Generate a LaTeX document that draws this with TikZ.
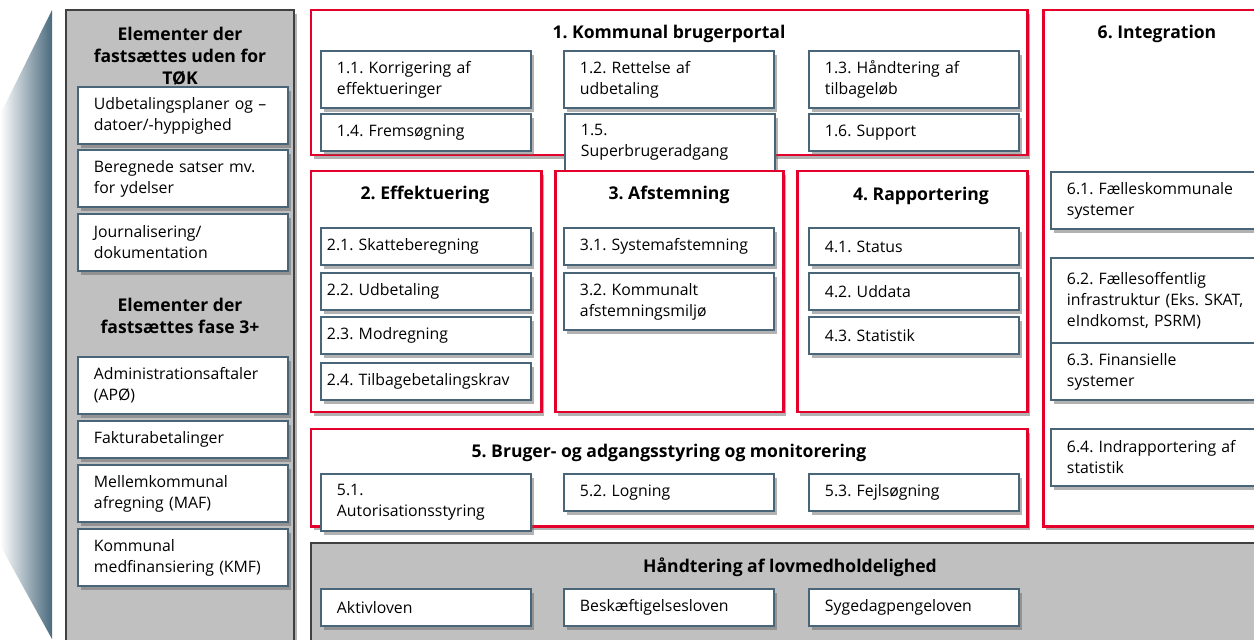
\documentclass[tikz,border=0pt]{standalone}
\usepackage{fontspec}
\setmainfont{Open Sans}
\usetikzlibrary{shadows}
\frenchspacing

\definecolor{framered}{RGB}{228,0,43}
\definecolor{itemblue}{RGB}{72,102,120}
\definecolor{panelgrey}{RGB}{192,192,192}
\definecolor{slate}{RGB}{74,106,125}

\begin{document}
\begin{tikzpicture}[x=0.02cm, y=-0.02cm,
	softshadow/.style = {drop shadow = {shadow xshift = 1.6pt, shadow yshift = -2.4pt, opacity = 0.5, fill = black!60}},
	sect/.style = {draw = framered, line width = 1.7pt, fill = white, softshadow},
	panel/.style = {draw = black!75, line width = 0.6pt, fill = panelgrey, softshadow},
	head/.style = {font = \fontsize{10}{12.5}\selectfont\bfseries, align = center},
	item/.style = {anchor = north west, draw = itemblue, line width = 1.1pt, fill = white, softshadow,
		minimum width = 4.2cm, minimum height = 1.14cm, text width = 3.56cm, inner xsep = 0.32cm,
		align = left, font = \fontsize{9}{11.9}\selectfont},
	short/.style = {minimum height = 0.74cm},
	tall/.style = {minimum height = 1.7cm},
	tight/.style = {text width = 3.96cm, inner xsep = 0.12cm}]
	\clip (0, 0) rectangle (1254, 639);
	\fill[white] (0, 0) rectangle (1254, 639);
	
	% side wedge
	\shade[left color = white, right color = slate] (0, 115) -- (52, 10) -- (52, 639) -- (0, 545) -- cycle;
	
	% left panel
	\draw[panel] (66, 10) rectangle (294, 660);
	\node[head] (lt1) at (180, 56) {Elementer der\\fastsættes uden for\\TØK};
	\node[item] (l1) at (77, 86) {Udbetalingsplaner og –\\datoer/-hyppighed};
	\node[item] (l2) at (77, 149) {Beregnede satser mv.\\for ydelser};
	\node[item] (l3) at (77, 213) {Journalisering/\\dokumentation};
	\node[head] (lt2) at (180, 316) {Elementer der\\fastsættes fase 3+};
	\node[item] (l4) at (77, 356) {Administrationsaftaler\\(APØ)};
	\node[item, short] (l5) at (77, 420) {Fakturabetalinger};
	\node[item] (l6) at (77, 464) {Mellemkommunal\\afregning (MAF)};
	\node[item] (l7) at (77, 528) {Kommunal\\medfinansiering (KMF)};
	
	% 1
	\draw[sect] (311, 10) rectangle (1027, 155);
	\node[head] (t1) at (669, 34) {1. Kommunal brugerportal};
	\node[item] (b11) at (320, 50) {1.1. Korrigering af\\effektueringer};
	\node[item] (b12) at (563, 50) {1.2. Rettelse af\\udbetaling};
	\node[item] (b13) at (808, 50) {1.3. Håndtering af\\tilbageløb};
	\node[item, short] (b14) at (320, 113) {1.4. Fremsøgning};
	\node[item] (b15) at (564, 113) {1.5.\\Superbrugeradgang};
	\node[item, short] (b16) at (808, 113) {1.6. Support};
	
	% 2
	\draw[sect] (311, 171) rectangle (541, 412);
	\node[head] (t2) at (425, 195) {2. Effektuering};
	\node[item, short, tight] (b21) at (320, 227) {2.1. Skatteberegning};
	\node[item, short, tight] (b22) at (320, 272) {2.2. Udbetaling};
	\node[item, short, tight] (b23) at (320, 316) {2.3. Modregning};
	\node[item, short, tight] (b24) at (320, 362) {2.4. Tilbagebetalingskrav};
	
	% 3
	\draw[sect] (555, 171) rectangle (783, 412);
	\node[head] (t3) at (669, 195) {3. Afstemning};
	\node[item, short] (b31) at (563, 227) {3.1. Systemafstemning};
	\node[item] (b32) at (563, 272) {3.2. Kommunalt\\afstemningsmiljø};
	
	% 4
	\draw[sect] (797, 171) rectangle (1027, 412);
	\node[head] (t4) at (921, 196) {4. Rapportering};
	\node[item, short] (b41) at (808, 227) {4.1. Status};
	\node[item, short] (b42) at (808, 272) {4.2. Uddata};
	\node[item, short] (b43) at (808, 316) {4.3. Statistik};
	
	% 5
	\draw[sect] (311, 429) rectangle (1027, 526);
	\node[head] (t5) at (669, 453) {5. Bruger- og adgangsstyring og monitorering};
	\node[item] (b51) at (320, 473) {5.1.\\Autorisationsstyring};
	\node[item, short] (b52) at (563, 473) {5.2. Logning};
	\node[item, short] (b53) at (808, 473) {5.3. Fejlsøgning};
	
	% 6
	\draw[sect] (1043, 10) rectangle (1270, 526);
	\node[head] (t6) at (1157, 34) {6. Integration};
	\node[item] (b61) at (1050, 171) {6.1. Fælleskommunale\\systemer};
	\node[item, tall] (b62) at (1050, 257) {6.2. Fællesoffentlig\\infrastruktur (Eks. SKAT,\\eIndkomst, PSRM)};
	\node[item] (b63) at (1050, 342) {6.3. Finansielle\\systemer};
	\node[item] (b64) at (1050, 428) {6.4. Indrapportering af\\statistik};
	
	% lovgivning
	\draw[panel] (311, 543) rectangle (1270, 660);
	\node[head] (t7) at (790, 567) {Håndtering af lovmedholdelighed};
	\node[item, short] (a1) at (320, 588) {Aktivloven};
	\node[item, short] (a2) at (563, 588) {Beskæftigelsesloven};
	\node[item, short] (a3) at (808, 588) {Sygedagpengeloven};
\end{tikzpicture}
\end{document}
